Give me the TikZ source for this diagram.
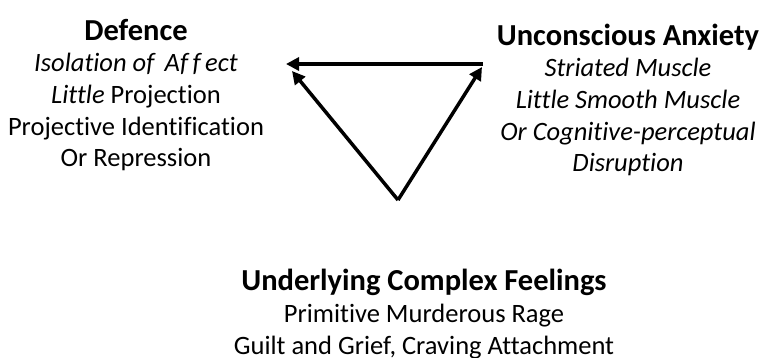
\documentclass[tikz,border=0pt]{standalone}
\usepackage{fontspec}
\setmainfont{Carlito}[Ligatures=NoCommon]
\usepackage{tikz}
\usetikzlibrary{positioning,arrows.meta}
\newcommand{\hd}[1]{{\fontsize{30.5}{31.7}\selectfont\bfseries #1}}

\begin{document}
\begin{tikzpicture}[
        x=1pt, y=1pt,
        block/.style={align=center, inner sep=0pt, anchor=base,
                      font=\fontsize{26.5}{31.7}\selectfont},
        arr/.style  ={line width=3.5pt, -{Triangle[length=13pt,width=13pt]}}
    ]
        \useasboundingbox (0,0) rectangle (763,-358);
        % the three corners of the conflict triangle (base = last line)
        \node[block] (defence) at (136,-167) {%
            \hd{Defence}\\
            \textit{Isolation of\, Af\,f\,ect}\\
            \textit{Little} Projection\\
            Projective Identification\\
            Or Repression};
        \node[block] (anxiety) at (628,-172) {%
            \hd{Unconscious Anxiety}\\
            \textit{Striated Muscle}\\
            \textit{Little Smooth Muscle}\\
            \textit{Or Cognitive-perceptual}\\
            \textit{Disruption}};
        \node[block] (feelings) at (424,-354) {%
            \hd{Underlying Complex Feelings}\\
            Primitive Murderous Rage\\
            Guilt and Grief, Craving Attachment};
        % arrow ends
        \coordinate (apex)   at (398,-200);
        \coordinate (defsl)  at (292,-71);
        \coordinate (anxsl)  at (482,-67);
        \coordinate (anxtop) at (483,-64);
        \coordinate (deftop) at (286,-64);
        \foreach \from/\to in {apex/defsl, apex/anxsl, anxtop/deftop}
            \draw[arr] (\from) -- (\to);
    \end{tikzpicture}
\end{document}
